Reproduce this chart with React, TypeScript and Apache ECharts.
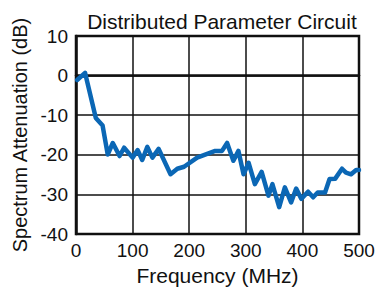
import React, { useEffect, useRef } from "react";
import * as echarts from "echarts";

const freq = [2, 16, 35, 47, 56, 65, 77, 85, 100, 109, 117, 126, 135, 146, 167, 179, 191, 214, 246, 258, 267, 278, 287, 296, 305, 316, 328, 340, 347, 359, 369, 380, 389, 398, 410, 419, 427, 440, 448, 458, 470, 477, 486, 495, 500];
const atten = [-1.1, 0.7, -10.7, -12.6, -19.9, -17, -20.3, -18.2, -20.7, -18.8, -21.3, -18, -20.7, -18.5, -24.9, -23.5, -23, -20.7, -19, -19, -17, -21.5, -19, -24.9, -22, -27.4, -24.3, -30.3, -27.4, -33.2, -28.2, -32, -28.5, -31.1, -29.3, -30.7, -29.5, -29.5, -26.1, -26, -23.5, -24.5, -24.9, -23.8, -23.8];
const xTicks = [0, 100, 200, 300, 400, 500];
const yTicks = [-40, -30, -20, -10, 0, 10];

const FONT = "'Liberation Sans', Arial, Helvetica, sans-serif";

export default function App() {
  const ref = useRef<HTMLDivElement>(null);
  useEffect(() => {
    if (!ref.current) return;
    const chart = echarts.init(ref.current, undefined, { renderer: "svg" });
    chart.setOption({
      animation: false,
      backgroundColor: "#ffffff",
      title: {
        text: "Distributed Parameter Circuit",
        left: 217,
        textAlign: "center",
        top: 6,
        textStyle: { fontFamily: FONT, fontSize: 21, fontWeight: "normal", color: "#111" },
      },
      grid: {
        left: 76,
        right: 19,
        top: 36,
        bottom: 56,
        show: true,
        borderColor: "#111",
        borderWidth: 2.5,
        backgroundColor: "transparent",
      },
      xAxis: {
        type: "value",
        min: xTicks[0],
        max: xTicks[xTicks.length - 1],
        interval: 100,
        name: "Frequency (MHz)",
        nameLocation: "middle",
        nameGap: 29,
        nameTextStyle: { fontFamily: FONT, fontSize: 21, color: "#111" },
        axisLine: { show: true, lineStyle: { color: "#111", width: 2.5 } },
        axisTick: { show: false },
        axisLabel: { fontFamily: FONT, fontSize: 19, color: "#111", margin: 7 },
        splitLine: { show: true, lineStyle: { color: "#111", width: 1.5 } },
      },
      yAxis: {
        type: "value",
        min: yTicks[0],
        max: yTicks[yTicks.length - 1],
        interval: 10,
        name: "Spectrum Attenuation (dB)",
        nameLocation: "middle",
        nameGap: 45,
        nameTextStyle: { fontFamily: FONT, fontSize: 20, color: "#111" },
        axisLine: { show: true, lineStyle: { color: "#111", width: 2.5 } },
        axisTick: { show: false },
        axisLabel: { fontFamily: FONT, fontSize: 19, color: "#111", margin: 8 },
        splitLine: { show: true, lineStyle: { color: "#111", width: 1.5 } },
      },
      series: [
        {
          type: "line",
          data: freq.map((f, i) => [f, atten[i]]),
          showSymbol: false,
          symbol: "none",
          lineStyle: { color: "#0b67b5", width: 4.5, join: "round", cap: "round" },
          z: 5,
        },
      ],
    });
    return () => chart.dispose();
  }, []);
  return <div ref={ref} style={{ width: 378, height: 291, position: "absolute", left: 0, top: 0 }} />;
}
